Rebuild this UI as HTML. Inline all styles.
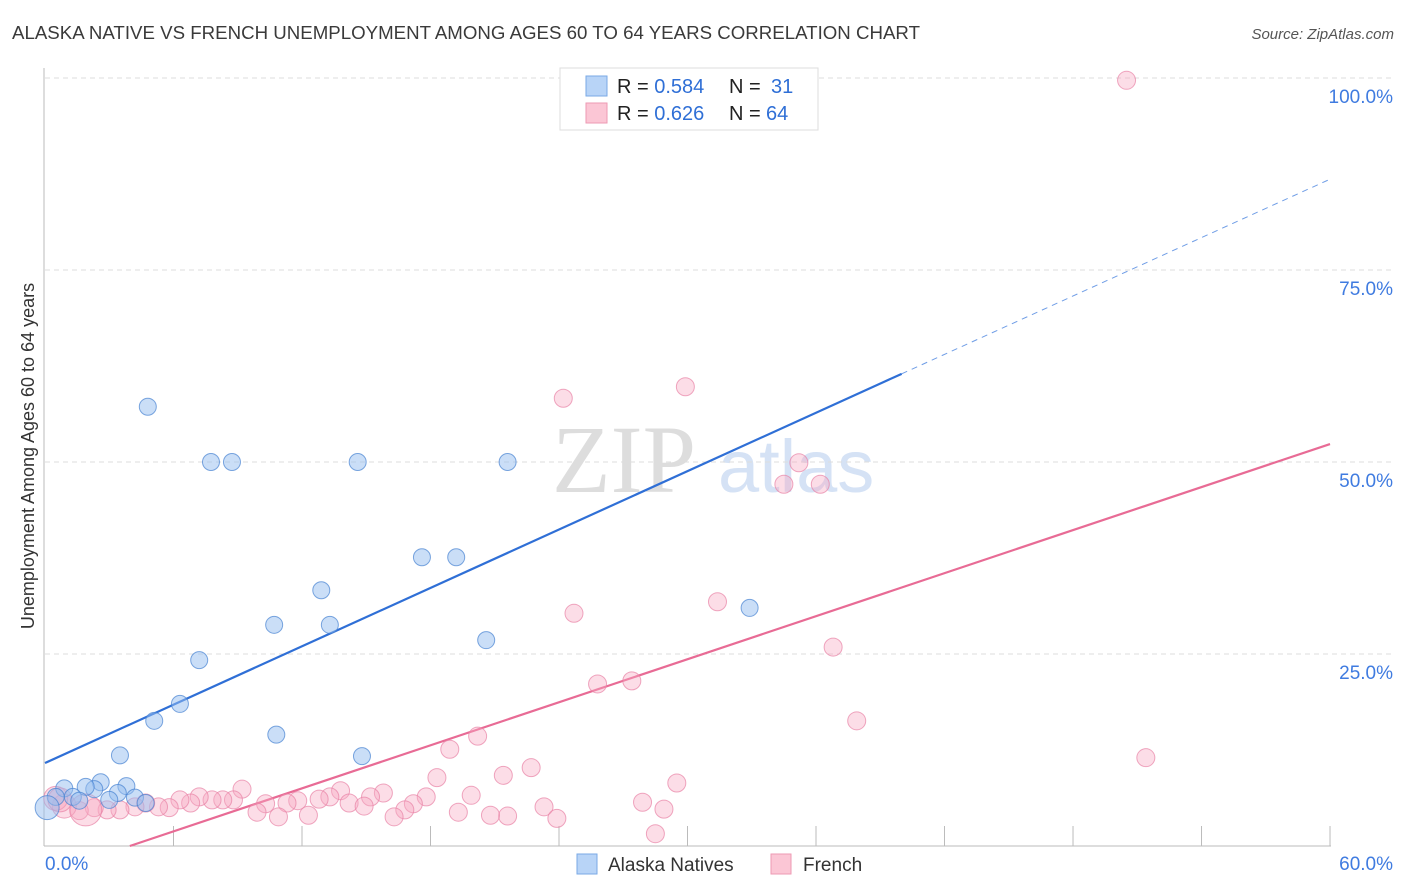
<!DOCTYPE html>
<html><head><meta charset="utf-8"><style>
body{margin:0;background:#fff;font-family:"Liberation Sans",sans-serif;}
svg{display:block}
</style></head><body>
<svg id="chart" width="1406" height="892" xmlns="http://www.w3.org/2000/svg">
<text x="12" y="39" font-size="18" fill="#3a3a3a" textLength="908" lengthAdjust="spacingAndGlyphs">ALASKA NATIVE VS FRENCH UNEMPLOYMENT AMONG AGES 60 TO 64 YEARS CORRELATION CHART</text>
<text x="1394" y="39" font-size="15" fill="#555" font-style="italic" text-anchor="end">Source: ZipAtlas.com</text>
<text x="34" y="456" font-size="18" fill="#333" text-anchor="middle" transform="rotate(-90 34 456)">Unemployment Among Ages 60 to 64 years</text>
<g><text x="552" y="492" font-size="96" fill="#ddd" font-family="Liberation Serif,serif">ZIP</text><text x="718" y="492" font-size="74" fill="#d5e2f5">atlas</text></g>
<g id="grid"></g><g id="lines"></g><g id="pts"></g>
<g>
<rect x="560" y="68" width="258" height="62" fill="#fff" stroke="#ddd"/>
<rect x="586" y="76" width="21" height="20" fill="#b8d4f7" stroke="#7aa9e6"/>
<rect x="586" y="103" width="21" height="20" fill="#fbc6d5" stroke="#ee9ab3"/>
<text x="617" y="93" font-size="20" fill="#222">R = <tspan fill="#2f6fd6">0.584</tspan><tspan x="729">N = </tspan><tspan x="771" fill="#2f6fd6">31</tspan></text>
<text x="617" y="120" font-size="20" fill="#222">R = <tspan fill="#2f6fd6">0.626</tspan><tspan x="729">N = </tspan><tspan x="766" fill="#2f6fd6">64</tspan></text>
</g>
<g>
<rect x="577" y="854" width="20" height="20" fill="#b8d4f7" stroke="#7aa9e6"/>
<text x="608" y="871" font-size="19" fill="#333">Alaska Natives</text>
<rect x="771" y="854" width="20" height="20" fill="#fbc6d5" stroke="#ee9ab3"/>
<text x="803" y="871" font-size="19" fill="#333">French</text>
</g>
</svg>
<script>
const xTicks=[6,12,18,24,30,36,42,48,54,60];
const yTicks=[25,50,75,100];
const yTickLabels=["25.0%","50.0%","75.0%","100.0%"];
const alaskaX=[4.8,7.75,8.73,14.6,21.6,17.6,19.2,12.9,10.7,13.3,20.6,32.9,7.2,6.3,5.1,10.8,14.8,3.5,0.9,2.6,2.3,3.8,3.4,1.9,1.3,1.6,0.5,4.2,4.7,0.1,3.0];
const alaskaY=[57.2,50,50,50,50,37.6,37.6,33.3,28.8,28.8,26.8,31,24.2,18.5,16.3,14.5,11.7,11.8,7.5,8.3,7.4,7.8,6.9,7.7,6.4,5.9,6.4,6.3,5.6,5,6];
const frenchX=[50.5,29.9,24.2,35.2,34.5,36.2,31.4,24.7,36.8,25.8,27.4,37.9,51.4,20.2,18.9,22.7,21.4,29.5,18.3,15.8,13.8,9.2,19.9,27.9,28.9,23.3,23.9,28.5,21.6,20.8,19.3,17.8,17.2,16.8,16.3,15.2,14.2,14.9,13.3,12.8,11.8,11.3,12.3,10.9,10.3,9.9,8.8,8.3,7.8,7.2,6.8,6.3,5.8,5.3,4.7,4.2,3.5,2.9,2.3,1.6,0.9,0.5,1.9,0.7];
const frenchY=[99.7,59.8,58.3,49.9,47.1,47.1,31.8,30.3,25.9,21.1,21.5,16.3,11.5,14.3,12.6,10.2,9.2,8.2,8.9,6.9,7.2,7.4,6.6,5.7,4.8,5.1,3.6,1.6,3.9,4,4.4,6.4,5.5,4.7,3.8,6.4,5.6,5.2,6.4,6.1,5.9,5.6,4,3.8,5.5,4.4,6,6,6,6.4,5.6,6,5,5.1,5.6,5.1,4.7,4.7,5,4.6,5.2,6.2,4.7,6];
const alaskaFit=[10.8,1.267,40];
const frenchFit=[-3.7,0.934];
const X=v=>45+v*21.417, Y=v=>846-v*7.68;
const NS="http://www.w3.org/2000/svg";
function mk(tag,attrs,parent){const e=document.createElementNS(NS,tag);for(const k in attrs)e.setAttribute(k,attrs[k]);parent.appendChild(e);return e;}
const grid=document.getElementById('grid'),lines=document.getElementById('lines'),pts=document.getElementById('pts');
yTicks.forEach((t,i)=>{
 const g=mk('line',{x1:45,x2:1394,y1:Y(t),y2:Y(t),stroke:'#ddd','stroke-dasharray':'5,4'},grid);
 
 
 const l=mk('text',{x:1393,y:Y(t)+25,'font-size':19,fill:'#3f7be0','text-anchor':'end'},grid);l.textContent=yTickLabels[i];
 
 
});
const ax=mk('line',{x1:44,x2:44,y1:68,y2:846,stroke:'#bbb'},grid);


const xa=mk('line',{x1:44,x2:1331,y1:846,y2:846,stroke:'#bbb'},grid);


xTicks.forEach(t=>{mk('line',{x1:X(t),x2:X(t),y1:826,y2:846,stroke:'#bbb'},grid);});
const x0=mk('text',{x:45,y:870,'font-size':19,fill:'#3f7be0'},grid);x0.textContent='0.0%';


const x1=mk('text',{x:1393,y:870,'font-size':19,fill:'#3f7be0','text-anchor':'end'},grid);x1.textContent='60.0%';


frenchX.forEach((v,i)=>{
 const r=(i>=60)?(i==62?16:12):9;
 const c=mk('circle',{cx:X(v),cy:Y(frenchY[i]),r:r,fill:'rgba(248,170,195,0.4)',stroke:'rgba(232,130,165,0.7)','stroke-width':1},pts);
 
 
});
alaskaX.forEach((v,i)=>{
 const c=mk('circle',{cx:X(v),cy:Y(alaskaY[i]),r:(i==29?12:8.5),fill:'rgba(150,190,240,0.5)',stroke:'rgba(70,130,210,0.7)','stroke-width':1},pts);
 
 
});
const fa=v=>alaskaFit[0]+alaskaFit[1]*v;
const b1=mk('line',{x1:X(0),y1:Y(fa(0)),x2:X(alaskaFit[2]),y2:Y(fa(alaskaFit[2])),stroke:'#2f6fd6','stroke-width':2.2},lines);


const b2=mk('line',{x1:X(alaskaFit[2]),y1:Y(fa(alaskaFit[2])),x2:X(60),y2:Y(fa(60)),stroke:'#6f9de6','stroke-width':1,'stroke-dasharray':'6,5'},lines);


const ff=v=>frenchFit[0]+frenchFit[1]*v, fx0=-frenchFit[0]/frenchFit[1];
const p1=mk('line',{x1:X(fx0),y1:Y(0),x2:X(60),y2:Y(ff(60)),stroke:'#e86b95','stroke-width':2.2},lines);


</script>
</body></html>
